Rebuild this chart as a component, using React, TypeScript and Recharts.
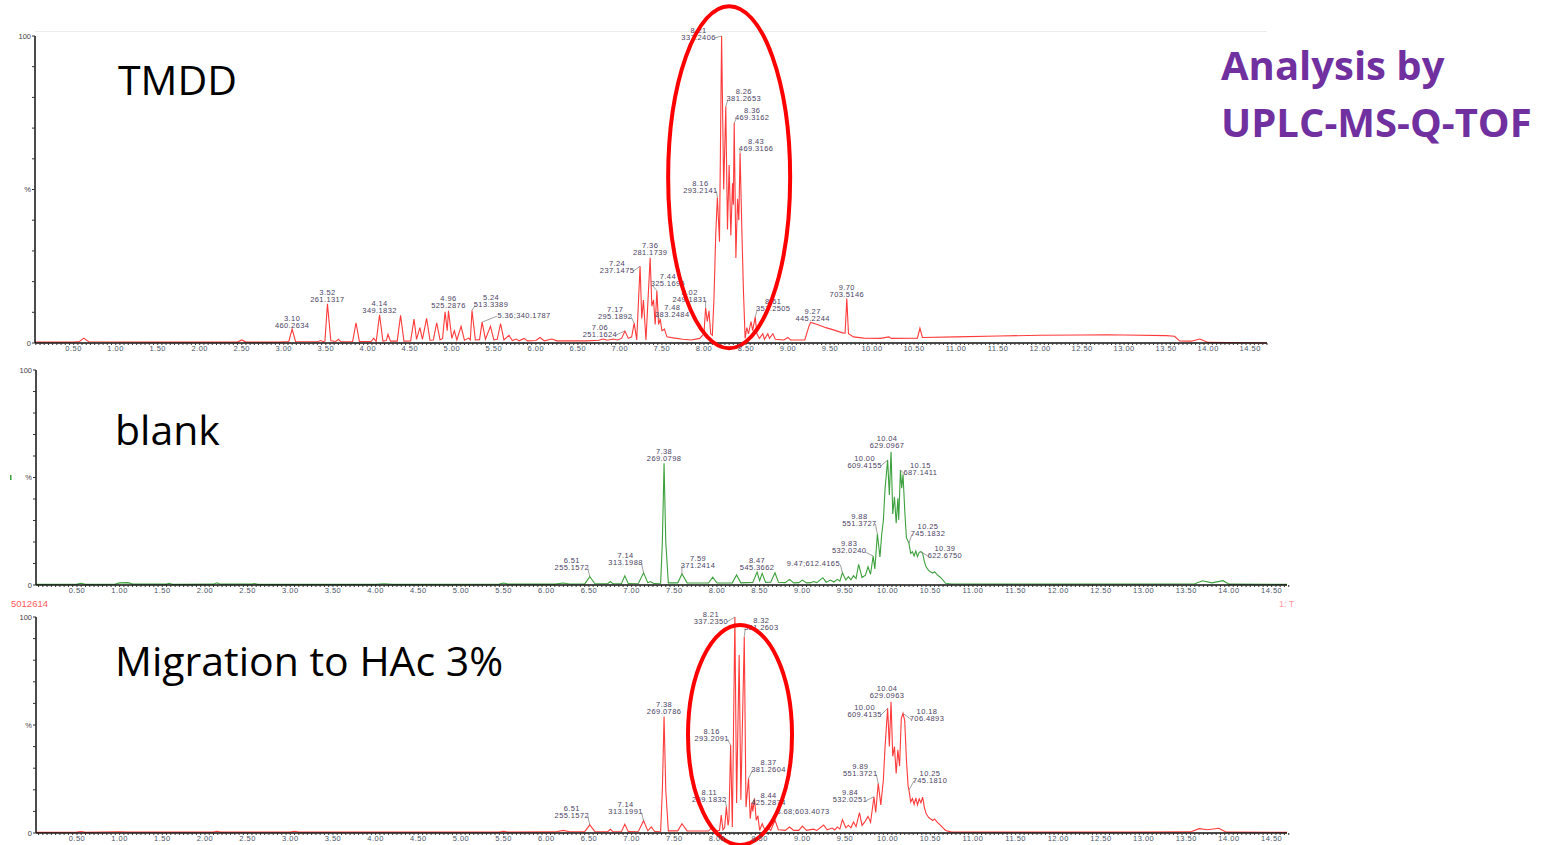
import React from "react"
import { LineChart, Line, XAxis, YAxis, ReferenceDot } from "recharts"

type Pt = [number, number]
interface Peak { rt: number; mz: string; inline?: boolean }

// retention time (min) vs. relative intensity (%)
const TMDD_TRACE: Pt[] = [
  [0.04, 0.3], [0.5, 0.3], [0.57, 0.5], [0.62, 1.6], [0.68, 0.4], [1.5, 0.3], [2.45, 0.3], [2.5, 1.0], [2.55, 0.3],
  [2.95, 0.3], [3.06, 0.5], [3.10, 4.5], [3.14, 0.5], [3.40, 0.4], [3.44, 0.8], [3.47, 0.4], [3.49, 0.6], [3.52, 12.8],
  [3.56, 0.7], [3.62, 0.5], [3.65, 1.2], [3.68, 0.4], [3.82, 0.5], [3.86, 6.6], [3.90, 0.5], [4.04, 0.5], [4.07, 1.6],
  [4.10, 0.5], [4.14, 9.2], [4.18, 0.6], [4.22, 0.8], [4.24, 2.8], [4.27, 0.6], [4.35, 0.6], [4.39, 9.0], [4.43, 0.6],
  [4.51, 0.7], [4.55, 7.8], [4.58, 1.2], [4.62, 5.0], [4.65, 1.2], [4.70, 8.0], [4.74, 0.9], [4.78, 1.0], [4.82, 6.6],
  [4.86, 1.0], [4.89, 1.5], [4.92, 10.2], [4.945, 4.0], [4.96, 10.5], [5.00, 1.5], [5.03, 4.0], [5.06, 1.0], [5.11, 5.4],
  [5.15, 0.9], [5.20, 1.6], [5.22, 1.0], [5.24, 10.6], [5.28, 1.0], [5.33, 1.1], [5.36, 6.8], [5.40, 1.2], [5.46, 5.4],
  [5.50, 1.0], [5.54, 1.2], [5.58, 6.3], [5.62, 1.0], [5.68, 2.5], [5.72, 0.8], [5.77, 1.3], [5.80, 0.7], [5.86, 1.5],
  [5.90, 0.7], [6.0, 0.8], [6.05, 1.8], [6.10, 0.7], [6.19, 1.3], [6.25, 0.7], [6.6, 0.7], [6.75, 0.9], [6.8, 1.3],
  [6.85, 0.9], [6.92, 1.3], [6.97, 1.0], [7.02, 1.5], [7.06, 3.9], [7.10, 1.5], [7.14, 2.0], [7.17, 6.5], [7.20, 1.0],
  [7.24, 25.0], [7.26, 8], [7.28, 14], [7.31, 1.0], [7.36, 27.8], [7.38, 12], [7.40, 14], [7.42, 6], [7.44, 17.0],
  [7.46, 6], [7.48, 7.8], [7.50, 4], [7.53, 4.5], [7.56, 2.0], [7.65, 1.6], [7.75, 1.2], [7.85, 1.0], [7.95, 1.5],
  [8.0, 3], [8.02, 11.5], [8.04, 7], [8.06, 10.5], [8.08, 3], [8.10, 2.5], [8.12, 15], [8.14, 35], [8.16, 47.5],
  [8.185, 33], [8.21, 100], [8.235, 50], [8.26, 77], [8.28, 37], [8.30, 58], [8.32, 35], [8.34, 52], [8.35, 45],
  [8.36, 71.7], [8.38, 27.7], [8.40, 47], [8.415, 40], [8.43, 62], [8.45, 38], [8.47, 17], [8.49, 1.5], [8.51, 5],
  [8.53, 3], [8.56, 7], [8.58, 4], [8.61, 8.5], [8.63, 3], [8.66, 1.5], [8.70, 3], [8.72, 1.2], [8.76, 3], [8.78, 1.5],
  [8.82, 3], [8.85, 1.2], [8.95, 1.0], [9.0, 1.8], [9.03, 1.0], [9.2, 1.0], [9.25, 5.5], [9.27, 6.7], [9.35, 6.0],
  [9.45, 5.0], [9.55, 4.2], [9.65, 3.3], [9.68, 3.2], [9.70, 14.5], [9.72, 3.0], [9.78, 2.0], [9.9, 1.6], [10.1, 1.5],
  [10.2, 2.0], [10.23, 1.5], [10.54, 1.6], [10.57, 4.8], [10.6, 1.8], [11.0, 2.0], [11.5, 2.3], [12.0, 2.5],
  [12.5, 2.6], [12.8, 2.7], [13.0, 2.6], [13.5, 2.4], [13.6, 2.2], [13.66, 0.7], [13.8, 0.6], [13.9, 1.3], [14.0, 0.2],
  [14.70, 0],
]

const BLANK_TRACE: Pt[] = [
  [0.02, 0.3], [0.5, 0.4], [0.55, 0.8], [0.6, 0.3], [0.95, 0.4], [1.0, 1.0], [1.1, 1.1], [1.15, 0.4], [1.55, 0.4],
  [1.58, 0.8], [1.62, 0.3], [2.1, 0.4], [2.14, 1.0], [2.18, 0.4], [2.55, 0.4], [2.58, 0.7], [2.62, 0.3], [4.0, 0.3],
  [4.1, 0.6], [4.2, 0.3], [5.45, 0.4], [5.5, 0.9], [5.55, 0.4], [6.1, 0.4], [6.2, 0.9], [6.27, 0.5], [6.45, 0.5],
  [6.51, 3.9], [6.57, 0.6], [6.72, 0.6], [6.75, 1.6], [6.78, 0.6], [6.88, 0.6], [6.92, 4.3], [6.96, 0.7], [7.08, 0.8],
  [7.14, 5.7], [7.19, 1.0], [7.22, 1.6], [7.26, 0.7], [7.34, 0.8], [7.36, 20], [7.38, 56.6], [7.40, 20], [7.43, 1.0],
  [7.54, 1.0], [7.59, 5.1], [7.65, 1.0], [7.90, 0.9], [7.95, 3.6], [8.0, 0.9], [8.18, 1.0], [8.23, 4.7], [8.28, 1.0],
  [8.42, 1.2], [8.47, 6.0], [8.50, 2.0], [8.53, 5.4], [8.57, 1.2], [8.63, 1.3], [8.68, 5.7], [8.72, 1.3], [8.8, 1.1],
  [8.85, 2.6], [8.9, 1.0], [8.96, 1.1], [9.00, 2.3], [9.05, 1.0], [9.10, 1.1], [9.13, 1.6], [9.17, 1.1], [9.24, 3.4],
  [9.28, 1.3], [9.33, 2.3], [9.37, 1.4], [9.41, 2.6], [9.44, 1.8], [9.47, 5.7], [9.51, 2.3], [9.54, 3.9], [9.57, 2.4],
  [9.60, 4.3], [9.63, 3.0], [9.66, 9.6], [9.70, 3.5], [9.74, 4.6], [9.77, 8.5], [9.80, 5.0], [9.83, 13.5], [9.85, 7.5],
  [9.88, 23.7], [9.91, 13], [9.93, 23.3], [9.95, 30], [9.97, 45], [10.00, 58.1], [10.02, 41.9], [10.04, 62],
  [10.06, 33], [10.08, 41], [10.10, 28.7], [10.12, 40.3], [10.13, 30.2], [10.15, 53.5], [10.165, 45], [10.18, 51.5],
  [10.20, 35], [10.22, 22], [10.25, 19.4], [10.27, 14.7], [10.29, 15.5], [10.31, 13.5], [10.33, 15.8], [10.35, 13.2],
  [10.37, 15.2], [10.39, 15.5], [10.41, 14.8], [10.43, 11], [10.45, 8.5], [10.48, 6.8], [10.50, 6.2], [10.53, 5.5],
  [10.55, 6.2], [10.58, 4.8], [10.62, 3.5], [10.68, 0.8], [10.75, 0.5], [11.5, 0.5], [13.0, 0.5], [13.6, 0.6],
  [13.69, 2.0], [13.8, 1.0], [13.93, 2.0], [14.0, 0.4], [14.68, 0.3],
]

const HAC_TRACE: Pt[] = [
  [0.02, 0.3], [0.5, 0.4], [0.55, 0.7], [0.6, 0.3], [1.0, 0.6], [1.1, 0.4], [2.1, 0.4], [2.14, 0.8], [2.18, 0.4],
  [3.0, 0.4], [3.05, 0.8], [3.1, 0.4], [5.45, 0.4], [5.5, 0.8], [5.55, 0.4], [6.1, 0.5], [6.2, 1.2], [6.27, 0.6],
  [6.45, 0.6], [6.51, 3.7], [6.57, 0.6], [6.72, 0.6], [6.75, 1.7], [6.78, 0.6], [6.88, 0.6], [6.92, 4.0], [6.96, 0.7],
  [7.08, 0.8], [7.14, 5.7], [7.19, 1.0], [7.23, 2.8], [7.27, 0.7], [7.34, 0.8], [7.36, 20], [7.38, 53.9], [7.40, 20],
  [7.43, 1.0], [7.54, 1.0], [7.59, 4.3], [7.65, 1.0], [7.90, 0.9], [7.95, 2.8], [8.0, 1.0], [8.03, 1.2], [8.05, 8.3],
  [8.07, 1.5], [8.09, 2.5], [8.11, 12.2], [8.13, 3.5], [8.14, 6], [8.16, 40.7], [8.18, 2.8], [8.21, 100], [8.23, 13.9],
  [8.26, 82.4], [8.28, 15.4], [8.32, 90.9], [8.34, 12], [8.37, 25.3], [8.39, 6.6], [8.41, 14], [8.42, 10], [8.44, 16],
  [8.46, 5.9], [8.48, 8], [8.50, 1.2], [8.53, 4.3], [8.56, 1.5], [8.60, 2.5], [8.63, 1.2], [8.68, 5.9], [8.72, 1.5],
  [8.80, 1.2], [8.85, 2.8], [8.9, 1.2], [8.96, 1.2], [9.00, 3.2], [9.05, 1.2], [9.13, 1.8], [9.17, 1.2], [9.25, 3.7],
  [9.29, 1.5], [9.35, 2.3], [9.38, 1.4], [9.41, 2.8], [9.44, 1.8], [9.47, 6.2], [9.51, 2.4], [9.54, 3.6], [9.57, 2.4],
  [9.60, 5.1], [9.63, 3.0], [9.67, 9.4], [9.70, 3.5], [9.73, 5.0], [9.77, 7.7], [9.80, 5.0], [9.84, 16.8], [9.86, 9.5],
  [9.89, 23.0], [9.92, 13], [9.95, 24.5], [9.97, 40], [10.00, 57.7], [10.02, 40], [10.04, 60.8], [10.06, 35.5],
  [10.08, 40], [10.10, 27.6], [10.12, 38.5], [10.14, 31], [10.16, 53], [10.18, 55.4], [10.20, 52], [10.22, 33.9],
  [10.24, 21.6], [10.25, 19.9], [10.27, 14.4], [10.29, 16], [10.31, 13.2], [10.33, 16.2], [10.35, 13], [10.37, 15.8],
  [10.39, 14], [10.41, 16.6], [10.43, 12], [10.45, 9], [10.48, 7.2], [10.50, 6.6], [10.53, 5.8], [10.55, 6.5],
  [10.58, 5], [10.62, 3.5], [10.68, 1.2], [10.75, 0.4], [11.5, 0.4], [13.0, 0.4], [13.55, 0.5], [13.65, 2.0],
  [13.75, 1.5], [13.88, 2.2], [13.97, 0.4], [14.68, 0.3],
]

const TMDD_PEAKS: Peak[] = [
  { rt: 3.10, mz: "460.2634" }, { rt: 3.52, mz: "261.1317" }, { rt: 4.14, mz: "349.1832" },
  { rt: 4.96, mz: "525.2876" }, { rt: 5.24, mz: "513.3389" }, { rt: 5.36, mz: "340.1787", inline: true },
  { rt: 7.06, mz: "251.1624" }, { rt: 7.17, mz: "295.1892" }, { rt: 7.24, mz: "237.1475" },
  { rt: 7.36, mz: "281.1739" }, { rt: 7.44, mz: "325.1695" }, { rt: 7.48, mz: "383.2484" },
  { rt: 8.02, mz: "249.1831" }, { rt: 8.16, mz: "293.2141" }, { rt: 8.21, mz: "337.2406" },
  { rt: 8.26, mz: "381.2653" }, { rt: 8.36, mz: "469.3162" }, { rt: 8.43, mz: "469.3166" },
  { rt: 8.61, mz: "357.2505" }, { rt: 9.27, mz: "445.2244" }, { rt: 9.70, mz: "703.5146" },
]

const BLANK_PEAKS: Peak[] = [
  { rt: 6.51, mz: "255.1572" }, { rt: 7.14, mz: "313.1988" }, { rt: 7.38, mz: "269.0798" },
  { rt: 7.59, mz: "371.2414" }, { rt: 8.47, mz: "545.3662" }, { rt: 9.47, mz: "612.4165", inline: true },
  { rt: 9.83, mz: "532.0240" }, { rt: 9.88, mz: "551.3727" }, { rt: 10.00, mz: "609.4155" },
  { rt: 10.04, mz: "629.0967" }, { rt: 10.15, mz: "687.1411" }, { rt: 10.25, mz: "745.1832" },
  { rt: 10.39, mz: "622.6750" },
]

const HAC_PEAKS: Peak[] = [
  { rt: 6.51, mz: "255.1572" }, { rt: 7.14, mz: "313.1991" }, { rt: 7.38, mz: "269.0786" },
  { rt: 8.11, mz: "269.1832" }, { rt: 8.16, mz: "293.2091" }, { rt: 8.21, mz: "337.2350" },
  { rt: 8.32, mz: "381.2603" }, { rt: 8.37, mz: "381.2604" }, { rt: 8.44, mz: "425.2874" },
  { rt: 8.68, mz: "603.4073", inline: true }, { rt: 9.84, mz: "532.0251" }, { rt: 9.89, mz: "551.3721" },
  { rt: 10.00, mz: "609.4135" }, { rt: 10.04, mz: "629.0963" }, { rt: 10.18, mz: "706.4893" },
  { rt: 10.25, mz: "745.1810" },
]

// where each peak tag sits relative to its apex, in px
const TMDD_TAG_POS: Record<string, Pt> = {
  "3.10": [0, -4], "3.52": [0, -4], "4.14": [0, -4], "4.96": [0, -5], "5.24": [19, -6], "5.36": [42, -7],
  "7.06": [-25, 3], "7.17": [-19, -7], "7.24": [-23, 4], "7.36": [0, -5], "7.44": [11, -7], "7.48": [12, -5],
  "8.02": [-16, -8], "8.16": [-17, -7], "8.21": [-23, 1], "8.26": [18, -8], "8.36": [18, -5], "8.43": [16, -4],
  "8.61": [18, -8], "9.27": [2, -4], "9.70": [0, -4],
}
const BLANK_TAG_POS: Record<string, Pt> = {
  "6.51": [-18, -9], "7.14": [-18, -10], "7.38": [0, -5], "7.59": [16, -9], "8.47": [0, -5], "9.47": [-29, -9],
  "9.83": [-24, -5], "9.88": [-18, -11], "10.00": [-23, 5], "10.04": [-4, -6], "10.15": [20, 3], "10.25": [19, -10],
  "10.39": [24, 4],
}
const HAC_TAG_POS: Record<string, Pt> = {
  "6.51": [-18, -10], "7.14": [-18, -9], "7.38": [0, -5], "8.11": [-17, -7], "8.16": [-19, -7], "8.21": [-24, 4],
  "8.32": [17, -9], "8.37": [20, -9], "8.44": [14, 4], "8.68": [28, -9], "9.84": [-24, 3], "9.89": [-18, -10],
  "10.00": [-23, 6], "10.04": [-4, -6], "10.18": [24, 5], "10.25": [21, -10],
}

const TIME_LABELS = [0.5, 1.0, 1.5, 2.0, 2.5, 3.0, 3.5, 4.0, 4.5, 5.0, 5.5, 6.0, 6.5, 7.0, 7.5, 8.0, 8.5, 9.0, 9.5,
  10.0, 10.5, 11.0, 11.5, 12.0, 12.5, 13.0, 13.5, 14.0, 14.5]
const Y_TICKS = [0, 10, 20, 30, 40, 50, 60, 70, 80, 90, 100]

// minor ticks every 0.05 min
const X_TICKS: number[] = []
for (let i = 1; i <= 294; i++) X_TICKS.push(Math.round(i * 5) / 100)

const fmtX = (v: number) => (TIME_LABELS.some((l) => Math.abs(l - v) < 1e-6) ? v.toFixed(2) : "")
const fmtY = (v: number) => (v === 100 ? "100" : v === 50 ? "%" : v === 0 ? "0" : "")

const TAG_COLOR = "#4b3f63"

function PeakTag({ cx, cy, peak, pos }: { cx: number; cy: number; peak: Peak; pos: Pt }) {
  const [dx, dy] = pos
  const x = cx + dx
  const y = cy + dy
  const half = peak.inline ? 27 : 16
  const style = { fontFamily: "Liberation Sans, Arial, sans-serif", fontSize: 7.5, letterSpacing: 0.4 }
  const leadX = dx < -6 ? x + half : dx > 6 ? x - half : null
  return (
    <g>
      {leadX !== null && <polyline points={`${cx},${cy} ${leadX},${y + 1}`} fill="none" stroke="#777" strokeWidth={0.7} />}
      {peak.inline ? (
        <text x={x} y={y + 2.5} textAnchor="middle" fill={TAG_COLOR} style={style}>
          {`${peak.rt.toFixed(2)};${peak.mz}`}
        </text>
      ) : (
        <text textAnchor="middle" fill={TAG_COLOR} style={style}>
          <tspan x={x} y={y - 4.5}>{peak.rt.toFixed(2)}</tspan>
          <tspan x={x} y={y + 2.5}>{peak.mz}</tspan>
        </text>
      )}
    </g>
  )
}

interface PanelProps {
  trace: Pt[]
  peaks: Peak[]
  tagPos: Record<string, Pt>
  color: string
  top: number
  width: number
  height: number
  marginTop: number
  marginRight: number
  yWidth: number
  domain: [number, number]
  ring?: { t: number; v: number; rx: number; ry: number }
}

function Panel(p: PanelProps) {
  const data = p.trace.map(([t, v]) => ({ t, v }))
  const valueAt = (rt: number) => (p.trace.find(([t]) => Math.abs(t - rt) < 1e-6) || [rt, 0])[1]
  return (
    <div style={{ position: "absolute", left: 0, top: p.top }}>
      <LineChart width={p.width} height={p.height} data={data}
        margin={{ top: p.marginTop, right: p.marginRight, left: 0, bottom: 0 }}>
        <XAxis type="number" dataKey="t" domain={p.domain} ticks={X_TICKS} interval={0} tickFormatter={fmtX}
          allowDataOverflow height={17} tickSize={2} tickMargin={1}
          axisLine={{ stroke: "#111", strokeWidth: 1.5 }} tickLine={{ stroke: "#333" }}
          tick={{ fontSize: 7.5, fill: "#4c5568", fontFamily: "Liberation Sans, Arial", letterSpacing: 0.5 }} />
        <YAxis type="number" domain={[0, 100]} ticks={Y_TICKS} interval={0} tickFormatter={fmtY} width={p.yWidth}
          tickSize={3} tickMargin={1} axisLine={{ stroke: "#111", strokeWidth: 1.5 }} tickLine={{ stroke: "#333" }}
          tick={{ fontSize: 7.5, fill: "#444", fontFamily: "Liberation Sans, Arial" }} />
        <Line type="linear" dataKey="v" stroke={p.color} strokeWidth={1.1} dot={false} isAnimationActive={false} />
        {p.peaks.map((pk) => (
          <ReferenceDot key={pk.rt} x={pk.rt} y={valueAt(pk.rt)} r={0} ifOverflow="visible"
            shape={(s: any) => <PeakTag cx={s.cx} cy={s.cy} peak={pk} pos={p.tagPos[pk.rt.toFixed(2)] || [0, -4]} />} />
        ))}
        {p.ring && (
          <ReferenceDot x={p.ring.t} y={p.ring.v} r={0} ifOverflow="visible"
            shape={(s: any) => (
              <ellipse cx={s.cx} cy={s.cy} rx={p.ring!.rx} ry={p.ring!.ry} fill="none" stroke="#ff0000" strokeWidth={4} />
            )} />
        )}
      </LineChart>
    </div>
  )
}

export default function App() {
  const big = { fontFamily: "Open Sans, Noto Sans, sans-serif", fontSize: 41, fill: "#000" }
  const purple = { fontFamily: "Open Sans, Noto Sans, sans-serif", fontSize: 40, fontWeight: 700, fill: "#7030a0" }
  return (
    <div style={{ position: "absolute", left: 0, top: 0, width: 1554, height: 845, overflow: "hidden", background: "#fff" }}>
      <div style={{ position: "absolute", left: 35, top: 31, width: 1232, borderTop: "1px solid #ececec" }} />
      <Panel trace={TMDD_TRACE} peaks={TMDD_PEAKS} tagPos={TMDD_TAG_POS} color="#ff3a3a" top={0}
        width={1300} height={360} marginTop={36} marginRight={33} yWidth={35} domain={[0.04, 14.7]}
        ring={{ t: 8.3, v: 54, rx: 61, ry: 171 }} />
      <Panel trace={BLANK_TRACE} peaks={BLANK_PEAKS} tagPos={BLANK_TAG_POS} color="#3ca03c" top={350}
        width={1307} height={252} marginTop={20} marginRight={20} yWidth={36} domain={[0.02, 14.68]} />
      <Panel trace={HAC_TRACE} peaks={HAC_PEAKS} tagPos={HAC_TAG_POS} color="#ff3a3a" top={597}
        width={1307} height={253} marginTop={20} marginRight={20} yWidth={36} domain={[0.02, 14.68]}
        ring={{ t: 8.27, v: 45.4, rx: 52, ry: 110 }} />
      <svg width={1554} height={845} style={{ position: "absolute", left: 0, top: 0, pointerEvents: "none" }}>
        <text x={118} y={95} style={big}>TMDD</text>
        <text x={115} y={445} style={big}>blank</text>
        <text x={115} y={676} style={big}>Migration to HAc 3%</text>
        <text x={1221} y={80} style={purple}>Analysis by</text>
        <text x={1221} y={137} style={purple}>UPLC-MS-Q-TOF</text>
        <text x={11} y={607} style={{ fontFamily: "Liberation Sans, Arial", fontSize: 9.5, fill: "#ff5a5a" }}>5012614</text>
        <text x={1279} y={607} style={{ fontFamily: "Liberation Sans, Arial", fontSize: 9, fill: "#ff9a9a" }}>1: T</text>
        <rect x={10} y={475} width={1.5} height={5} fill="#35a035" />
      </svg>
    </div>
  )
}
